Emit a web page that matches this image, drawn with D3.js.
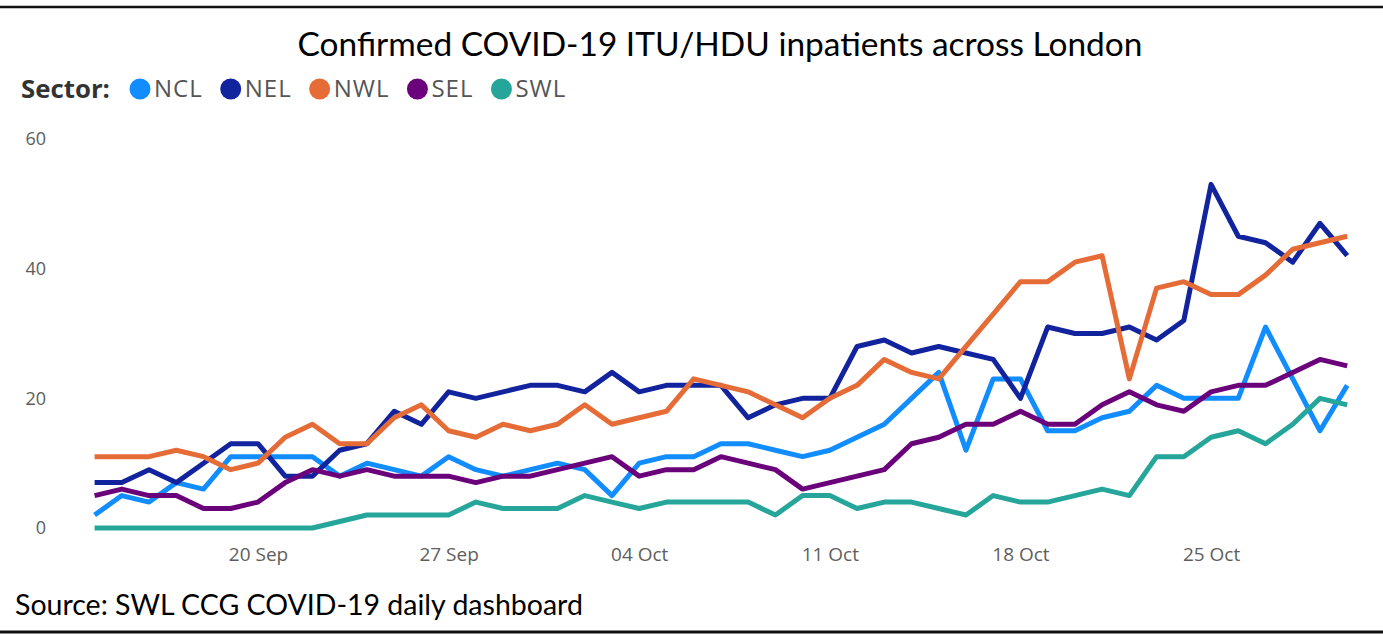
<!DOCTYPE html>
<html>
<head>
<meta charset="utf-8">
<script src="https://cdn.jsdelivr.net/npm/d3@7"></script>
<style>
  body { margin: 0; background: #fff; }
  svg { display: block; }
</style>
</head>
<body>
<svg width="1383" height="634"></svg>
<script>
// daily values, 14 Sep -> 30 Oct 2020
var startDay = '2020-09-14';
var endDay = '2020-10-30';
var sectors = ['NCL', 'NEL', 'NWL', 'SEL', 'SWL'];
var colors = ['#118DFF', '#12239E', '#E66C37', '#6B007B', '#26A69A'];

var ncl = [2,5,4,7,6,11,11,11,11,8,10,9,8,11,9,8,9,10,9,5,10,11,11,13,13,12,11,12,14,16,20,24,12,23,23,15,15,17,18,22,20,20,20,31,23,15,22];
var nel = [7,7,9,7,10,13,13,8,8,12,13,18,16,21,20,21,22,22,21,24,21,22,22,22,17,19,20,20,28,29,27,28,27,26,20,31,30,30,31,29,32,53,45,44,41,47,42];
var nwl = [11,11,11,12,11,9,10,14,16,13,13,17,19,15,14,16,15,16,19,16,17,18,23,22,21,19,17,20,22,26,24,23,28,33,38,38,41,42,23,37,38,36,36,39,43,44,45];
var sel = [5,6,5,5,3,3,4,7,9,8,9,8,8,8,7,8,8,9,10,11,8,9,9,11,10,9,6,7,8,9,13,14,16,16,18,16,16,19,21,19,18,21,22,22,24,26,25];
var swl = [0,0,0,0,0,0,0,0,0,1,2,2,2,2,4,3,3,3,5,4,3,4,4,4,4,2,5,5,3,4,4,3,2,5,4,4,5,6,5,11,11,14,15,13,16,20,19];

var yTicks = [0, 20, 40, 60];
var xTicks = ['2020-09-20', '2020-09-27', '2020-10-04', '2020-10-11', '2020-10-18', '2020-10-25'];

var titleText = 'Confirmed COVID-19 ITU/HDU inpatients across London';
var sourceText = 'Source: SWL CCG COVID-19 daily dashboard';

var parseDay = d3.utcParse('%Y-%m-%d');
var firstDay = parseDay(startDay);
var lastDay = parseDay(endDay);
var days = d3.utcDay.range(firstDay, d3.utcDay.offset(lastDay, 1));

var series = [ncl, nel, nwl, sel, swl];

var svg = d3.select('svg');

// frame lines top and bottom
svg.append('line').attr('x1', 0).attr('x2', 1383).attr('y1', 7).attr('y2', 7)
    .attr('stroke', '#111').attr('stroke-width', 2.5);
svg.append('line').attr('x1', 0).attr('x2', 1383).attr('y1', 632).attr('y2', 632)
    .attr('stroke', '#111').attr('stroke-width', 3);

// fit a text element to a wanted width by changing its font size
function fitWidth(sel, width) {
    var fs = parseFloat(sel.attr('font-size'));
    var w = sel.node().getComputedTextLength();
    if (w > 0) sel.attr('font-size', fs * width / w);
}

var title = svg.append('text')
    .attr('x', 720).attr('y', 56)
    .attr('text-anchor', 'middle')
    .attr('font-family', 'Lato, "Open Sans", sans-serif')
    .attr('font-size', 32)
    .attr('fill', '#000')
    .text(titleText);
fitWidth(title, 845);

var source = svg.append('text')
    .attr('x', 15).attr('y', 615)
    .attr('font-family', 'Lato, "Open Sans", sans-serif')
    .attr('font-size', 24)
    .attr('fill', '#000')
    .text(sourceText);
fitWidth(source, 568);

// legend
var legendY = 89;
var sectorLabel = svg.append('text')
    .attr('x', 21).attr('y', legendY)
    .attr('dy', '0.35em')
    .attr('font-family', '"Open Sans", sans-serif')
    .attr('font-weight', 'bold')
    .attr('font-size', 21)
    .attr('fill', '#333')
    .text('Sector:');
fitWidth(sectorLabel, 89);

var cursor = 140;
sectors.forEach(function (s, i) {
    svg.append('circle')
        .attr('cx', cursor).attr('cy', legendY).attr('r', 10.5)
        .attr('fill', colors[i]);
    var t = svg.append('text')
        .attr('x', cursor + 14).attr('y', legendY)
        .attr('dy', '0.35em')
        .attr('font-family', '"Open Sans", sans-serif')
        .attr('font-size', 24)
        .attr('letter-spacing', 1)
        .attr('fill', '#555')
        .text(s);
    cursor = cursor + 14 + t.node().getComputedTextLength() + 28;
});

// scales
var x = d3.scaleUtc()
    .domain([firstDay, lastDay])
    .range([94.6, 1347.2]);
var y = d3.scaleLinear()
    .domain([0, 60])
    .range([528, 139]);

var xAxis = svg.append('g')
    .attr('transform', 'translate(0,540)')
    .call(d3.axisBottom(x)
        .tickValues(xTicks.map(parseDay))
        .tickFormat(d3.utcFormat('%d %b'))
        .tickSize(0)
        .tickPadding(8));
xAxis.select('.domain').remove();
xAxis.selectAll('text')
    .attr('font-family', '"Open Sans", sans-serif')
    .attr('font-size', 19)
    .attr('fill', '#605E5C');

var yAxis = svg.append('g')
    .attr('transform', 'translate(46,0)')
    .call(d3.axisLeft(y)
        .tickValues(yTicks)
        .tickSize(0)
        .tickPadding(0));
yAxis.select('.domain').remove();
yAxis.selectAll('text')
    .attr('font-family', '"Open Sans", sans-serif')
    .attr('font-size', 18)
    .attr('fill', '#605E5C');

// lines
var line = d3.line()
    .x(function (d, i) { return x(days[i]); })
    .y(function (d) { return y(d); });

svg.append('g').selectAll('path')
    .data(series)
    .enter()
    .append('path')
    .attr('d', line)
    .attr('fill', 'none')
    .attr('stroke', function (d, i) { return colors[i]; })
    .attr('stroke-width', 5)
    .attr('stroke-linejoin', 'round');
</script>
</body>
</html>
